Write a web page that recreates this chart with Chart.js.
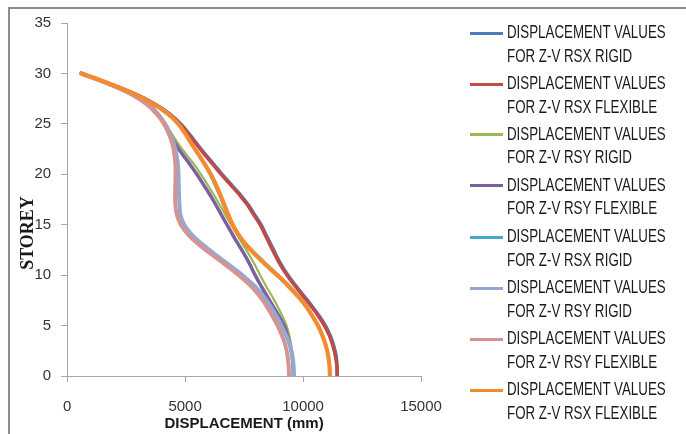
<!DOCTYPE html>
<html>
<head>
<meta charset="utf-8">
<script src="https://cdn.jsdelivr.net/npm/chart.js@4"></script>
<style>
  html, body { margin: 0; padding: 0; background: #fff; }
  #wrap { position: relative; width: 686px; height: 434px; overflow: hidden; }
  #frame { position: absolute; left: 8px; top: 7px; width: 720px; height: 460px; border: 2px solid #8c8c8c; box-sizing: border-box; }
  canvas { position: absolute; left: 0; top: 0; }
  #legend { position: absolute; left: 0; top: 0; width: 686px; height: 434px; pointer-events: none; }
  .item { position: absolute; left: 470px; }
  .swatch { position: absolute; left: 0; width: 33px; height: 3px; }
  .txt { position: absolute; left: 37px; white-space: nowrap; font-family: "Liberation Sans", Arial, sans-serif; font-size: 18px; color: #1a1a1a; transform: scaleX(0.74); transform-origin: 0 0; line-height: 23.6px; }
</style>
</head>
<body>
<div id="wrap">
  <div id="frame"></div>
  <canvas id="c" width="686" height="434"></canvas>
  <div id="legend"></div>
</div>
<script>
// ---- data ----
const storeys = [0,1,2,3,4,5,6,7,8,9,10,11,12,13,14,15,16,17,18,19,20,21,22,23,24,25,26,27,28,29,30];
const seriesNames = [
  "DISPLACEMENT VALUES\nFOR Z-V RSX RIGID",
  "DISPLACEMENT VALUES\nFOR Z-V RSX FLEXIBLE",
  "DISPLACEMENT VALUES\nFOR Z-V RSY RIGID",
  "DISPLACEMENT VALUES\nFOR Z-V RSY FLEXIBLE",
  "DISPLACEMENT VALUES\nFOR Z-V RSX RIGID",
  "DISPLACEMENT VALUES\nFOR Z-V RSY RIGID",
  "DISPLACEMENT VALUES\nFOR Z-V RSY FLEXIBLE",
  "DISPLACEMENT VALUES\nFOR Z-V RSX FLEXIBLE"
];
const rsxRigid1    = [11440,11440,11400,11300,11155,10945,10670,10355,10015,9680,9360,9085,8855,8645,8430,8220,7945,7670,7330,6950,6570,6210,5850,5510,5170,4815,4340,3695,2845,1785,600];
const rsxFlexible1 = [11455,11434,11371,11265,11117,10906,10631,10314,9976,9638,9321,9046,8813,8602,8391,8179,7904,7630,7292,6911,6531,6171,5812,5474,5136,4785,4320,3686,2841,1784,600];
const rsyRigid1    = [9600,9592,9560,9500,9420,9300,9110,8900,8660,8410,8180,7960,7720,7460,7200,6950,6700,6460,6210,5940,5670,5370,5040,4720,4440,4180,3870,3420,2720,1740,600];
const rsyFlexible1 = [9583,9574,9532,9447,9342,9194,8961,8708,8454,8200,7968,7757,7524,7270,7017,6772,6531,6298,6045,5770,5495,5199,4882,4586,4354,4142,3847,3403,2705,1733,600];
const rsxRigid2    = [11130,11115,11060,10965,10825,10650,10410,10150,9810,9420,8980,8520,8070,7650,7300,7010,6790,6600,6420,6230,6030,5790,5530,5265,4995,4705,4262,3630,2808,1773,600];
const rsyRigid2    = [9620,9600,9550,9450,9290,9090,8850,8590,8290,7910,7430,6880,6310,5760,5290,4960,4800,4760,4740,4730,4720,4690,4630,4530,4370,4150,3820,3370,2680,1720,600];
const rsyFlexible2 = [9405,9388,9342,9257,9109,8919,8686,8433,8137,7757,7270,6721,6150,5601,5136,4819,4650,4586,4578,4586,4595,4586,4544,4459,4312,4100,3783,3339,2663,1712,600];
const rsxFlexible2 = [11138,11121,11066,10969,10821,10631,10377,10103,9743,9342,8898,8433,7989,7587,7270,7017,6826,6658,6488,6298,6087,5833,5559,5284,5009,4713,4269,3635,2811,1775,600];
const xTicks = [0, 5000, 10000, 15000];
const yTicks = [0, 5, 10, 15, 20, 25, 30, 35];
const yTitle = 'STOREY';

const allSeries = [rsxRigid1, rsxFlexible1, rsyRigid1, rsyFlexible1, rsxRigid2, rsyRigid2, rsyFlexible2, rsxFlexible2];
const colors = ["#4A7EBB", "#BE4B48", "#98B954", "#7D60A0", "#46AAC5", "#93A9D2", "#D49492", "#F38B30"];
const widths = [3.5, 3.5, 2.2, 3.5, 1.8, 4, 4, 4.2];

const datasets = allSeries.map((vals, i) => ({
  label: seriesNames[i],
  data: vals.map((v, k) => ({ x: v, y: storeys[k] })),
  showLine: true,
  borderColor: colors[i],
  backgroundColor: colors[i],
  borderWidth: widths[i],
  pointRadius: 0,
  tension: 0.4,
  fill: false,
  order: allSeries.length - i,
  borderCapStyle: 'round',
  borderJoinStyle: 'round'
}));

// y-axis title drawn a little below the axis middle, as in the original
const yTitlePlugin = {
  id: 'yTitle',
  afterDraw(chart) {
    const ctx = chart.ctx;
    ctx.save();
    ctx.translate(28, 233);
    ctx.rotate(-Math.PI / 2);
    ctx.font = 'bold 18px "Liberation Serif", "Times New Roman", serif';
    ctx.fillStyle = '#1a1a1a';
    ctx.textAlign = 'center';
    ctx.textBaseline = 'middle';
    ctx.fillText(yTitle, 0, 0);
    ctx.restore();
  }
};

new Chart(document.getElementById('c'), {
  type: 'scatter',
  data: { datasets },
  plugins: [yTitlePlugin],
  options: {
    responsive: false,
    animation: false,
    layout: { padding: { left: 24.5, right: 265, top: 23, bottom: 1 } },
    plugins: { legend: { display: false }, tooltip: { enabled: false } },
    scales: {
      x: {
        type: 'linear', min: 0, max: 15000,
        afterBuildTicks: s => { s.ticks = xTicks.map(v => ({ value: v })); },
        grid: { drawOnChartArea: false, drawTicks: true, tickLength: 6, color: '#A6A6A6' },
        border: { display: true, color: '#A6A6A6', width: 1 },
        ticks: { color: '#333', font: { family: 'Liberation Sans', size: 15 }, padding: 16, maxRotation: 0, callback: v => String(v) },
        title: { display: true, text: 'DISPLACEMENT (mm)', color: '#1a1a1a', font: { family: 'Liberation Sans', size: 15, weight: 'bold', lineHeight: 1.2 }, padding: { top: -17, bottom: 0 } }
      },
      y: {
        type: 'linear', min: 0, max: 35,
        afterBuildTicks: s => { s.ticks = yTicks.map(v => ({ value: v })); },
        grid: { drawOnChartArea: false, drawTicks: true, tickLength: 6, color: '#A6A6A6' },
        border: { display: true, color: '#A6A6A6', width: 1 },
        ticks: { color: '#333', font: { family: 'Liberation Sans', size: 15 }, padding: 10, callback: v => String(v) },
        title: { display: false }
      }
    }
  }
});

// legend (HTML, two-line labels)
const legendTop = [33.3, 84.2, 134.9, 185.6, 237.3, 288.3, 339.3, 390];
const lg = document.getElementById('legend');
seriesNames.forEach((name, i) => {
  const it = document.createElement('div');
  it.className = 'item';
  it.style.top = legendTop[i] + 'px';
  const sw = document.createElement('div');
  sw.className = 'swatch';
  sw.style.background = colors[i];
  sw.style.top = '-1.5px';
  const tx = document.createElement('div');
  tx.className = 'txt';
  tx.style.top = '-12px';
  tx.innerHTML = name.split('\n').join('<br>');
  it.appendChild(sw); it.appendChild(tx);
  lg.appendChild(it);
});
</script>
</body>
</html>
